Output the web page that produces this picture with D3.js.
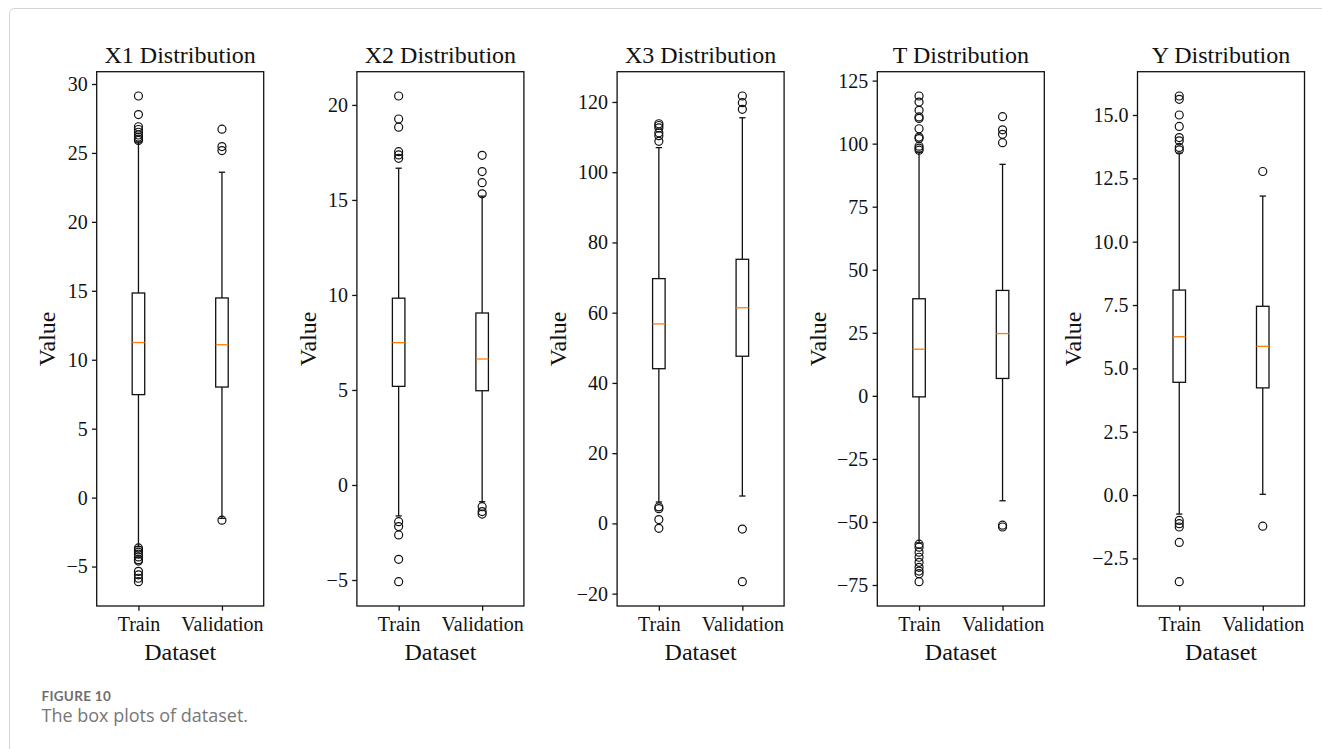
<!DOCTYPE html>
<html>
<head>
<meta charset="utf-8">
<script src="https://cdn.jsdelivr.net/npm/d3@7"></script>
<style>
  html, body { margin: 0; padding: 0; background: #fff; }
  svg { display: block; }
</style>
</head>
<body>
<svg id="chart" width="1322" height="749"></svg>
<script>
// Groups on every x axis
const groups = ["Train", "Validation"];

// Box summaries per group: [lower whisker, Q1, median, Q3, upper whisker]
const x1Boxes = [[-3.55, 7.47, 11.25, 14.84, 25.8], [-1.5, 8.02, 11.09, 14.48, 23.6]];
const x1Fliers = [
  [29.13, 27.78, 26.9, 26.7, 26.5, 26.3, 26.15, 26.0, 25.9, -3.65, -3.8, -3.95, -4.1, -4.3, -4.5, -4.6, -5.35, -5.6, -5.85, -6.1],
  [26.72, 25.46, 25.17, -1.64]
];
const x1Ticks = [-5, 0, 5, 10, 15, 20, 25, 30];

const x2Boxes = [[-1.63, 5.19, 7.49, 9.83, 16.67], [-0.88, 4.96, 6.63, 9.05, 15.2]];
const x2Fliers = [
  [20.47, 19.26, 18.83, 17.54, 17.37, 17.19, -1.93, -2.19, -2.63, -3.91, -5.09],
  [17.35, 16.49, 15.91, 15.32, -1.14, -1.4, -1.53]
];
const x2Ticks = [-5, 0, 5, 10, 15, 20];

const x3Boxes = [[6.1, 44.05, 56.8, 69.7, 107.0], [7.8, 47.6, 61.4, 75.2, 115.5]];
const x3Fliers = [
  [113.8, 113.3, 112.6, 111.2, 110.4, 108.8, 4.7, 4.2, 1.1, -1.4],
  [121.7, 119.8, 117.9, -1.6, -16.6]
];
const x3Ticks = [-20, 0, 20, 40, 60, 80, 100, 120];

const tBoxes = [[-58.3, -0.4, 18.5, 38.5, 96.6], [-41.6, 6.9, 24.7, 41.8, 91.8]];
const tFliers = [
  [118.9, 116.5, 113.2, 110.6, 110.0, 105.9, 102.6, 102.0, 99.0, 98.2, 97.4,
   -58.8, -60.0, -62.0, -64.0, -66.0, -68.0, -69.5, -70.5, -73.7],
  [110.7, 105.5, 103.7, 100.4, -51.3, -52.0]
];
const tTicks = [-75, -50, -25, 0, 25, 50, 75, 100, 125];

const yBoxes = [[-0.75, 4.45, 6.25, 8.09, 13.5], [0.03, 4.23, 5.87, 7.45, 11.8]];
const yFliers = [
  [15.75, 15.62, 15.0, 14.55, 14.11, 13.98, 13.72, 13.62, -1.0, -1.13, -1.26, -1.87, -3.42],
  [12.77, -1.23]
];
const yTicks = [-2.5, 0, 2.5, 5, 7.5, 10, 12.5, 15];

const variables = ["X1", "X2", "X3", "T", "Y"];

const panels = [
  { name: variables[0], boxes: x1Boxes, fliers: x1Fliers, ticks: x1Ticks, fmt: d3.format("d") },
  { name: variables[1], boxes: x2Boxes, fliers: x2Fliers, ticks: x2Ticks, fmt: d3.format("d") },
  { name: variables[2], boxes: x3Boxes, fliers: x3Fliers, ticks: x3Ticks, fmt: d3.format("d") },
  { name: variables[3], boxes: tBoxes, fliers: tFliers, ticks: tTicks, fmt: d3.format("d") },
  { name: variables[4], boxes: yBoxes, fliers: yFliers, ticks: yTicks, fmt: d3.format(".1f") }
];

const serif = "'Liberation Serif', 'Times New Roman', 'DejaVu Serif', serif";
const ink = "#111";
const lw = 1.3;

const svg = d3.select("#chart");

// Card outline of the figure block
svg.append("path")
  .attr("d", "M9.5,749 L9.5,14 Q9.5,8.5 15,8.5 L1322,8.5")
  .attr("fill", "none")
  .attr("stroke", "#d4d4d4")
  .attr("stroke-width", 1);

const frameTop = 71.7, frameBottom = 606, frameW = 167;
const firstLeft = 96.7, panelStep = 260.2;
const boxWidth = 0.15;

panels.forEach((p, i) => {
  const left = firstLeft + i * panelStep;
  const x = d3.scaleLinear().domain([0.5, 2.5]).range([left, left + frameW]);
  const all = p.boxes.flat().concat(p.fliers.flat());
  const [lo, hi] = d3.extent(all);
  const pad = (hi - lo) * 0.05;
  const y = d3.scaleLinear().domain([lo - pad, hi + pad]).range([frameBottom, frameTop]);

  const g = svg.append("g");

  // Y axis
  const yAxisG = g.append("g")
    .attr("transform", `translate(${left},0)`)
    .call(d3.axisLeft(y).tickValues(p.ticks).tickFormat(p.fmt).tickSize(4.7).tickPadding(4.3));
  // X axis
  const xAxisG = g.append("g")
    .attr("transform", `translate(0,${frameBottom})`)
    .call(d3.axisBottom(x).tickValues([1, 2]).tickFormat((d, k) => groups[k]).tickSize(4.7).tickPadding(5));

  [yAxisG, xAxisG].forEach(ax => {
    ax.select(".domain").remove();
    ax.selectAll(".tick line").attr("stroke", ink).attr("stroke-width", lw);
    ax.selectAll(".tick text")
      .attr("fill", ink)
      .style("font-family", serif)
      .style("font-size", "20px");
  });
  xAxisG.selectAll(".tick text").attr("dy", "0.78em");

  // Frame
  g.append("rect")
    .attr("x", left).attr("y", frameTop)
    .attr("width", frameW).attr("height", frameBottom - frameTop)
    .attr("fill", "none").attr("stroke", ink).attr("stroke-width", lw);

  // Boxes
  p.boxes.forEach((b, k) => {
    const pos = k + 1;
    const [wLo, q1, med, q3, wHi] = b;
    const bg = g.append("g");
    const x0 = x(pos - boxWidth / 2), x1 = x(pos + boxWidth / 2);
    const cx = x(pos);
    const c0 = x(pos - boxWidth / 4), c1 = x(pos + boxWidth / 4);
    // whiskers
    bg.append("line").attr("x1", cx).attr("x2", cx).attr("y1", y(q3)).attr("y2", y(wHi));
    bg.append("line").attr("x1", cx).attr("x2", cx).attr("y1", y(q1)).attr("y2", y(wLo));
    // caps
    bg.append("line").attr("x1", c0).attr("x2", c1).attr("y1", y(wHi)).attr("y2", y(wHi));
    bg.append("line").attr("x1", c0).attr("x2", c1).attr("y1", y(wLo)).attr("y2", y(wLo));
    bg.selectAll("line").attr("stroke", ink).attr("stroke-width", lw);
    // box
    bg.append("rect")
      .attr("x", x0).attr("y", y(q3))
      .attr("width", x1 - x0).attr("height", y(q1) - y(q3))
      .attr("fill", "none").attr("stroke", ink).attr("stroke-width", lw);
    // median
    bg.append("line")
      .attr("x1", x0).attr("x2", x1).attr("y1", y(med)).attr("y2", y(med))
      .attr("stroke", "#ff7f0e").attr("stroke-width", lw);
    // outliers
    bg.selectAll("circle.flier").data(p.fliers[k]).join("circle")
      .attr("class", "flier")
      .attr("cx", cx).attr("cy", d => y(d)).attr("r", 4)
      .attr("fill", "none").attr("stroke", ink).attr("stroke-width", 1.2);
  });

  // Title
  g.append("text")
    .attr("x", left + frameW / 2).attr("y", frameTop - 8.5)
    .attr("text-anchor", "middle")
    .attr("fill", ink)
    .style("font-family", serif).style("font-size", "24px")
    .text(`${p.name} Distribution`);

  // X label
  g.append("text")
    .attr("x", left + frameW / 2).attr("y", 660)
    .attr("text-anchor", "middle")
    .attr("fill", ink)
    .style("font-family", serif).style("font-size", "24px")
    .text("Dataset");

  // Y label, placed just left of the widest tick label
  let minX = left;
  yAxisG.selectAll(".tick text").each(function () {
    const bb = this.getBBox();
    const m = this.parentNode.transform.baseVal.consolidate();
    const tx = m ? m.matrix.e : 0;
    minX = Math.min(minX, left + tx + bb.x);
  });
  const lx = minX - 11;
  const ly = (frameTop + frameBottom) / 2;
  g.append("text")
    .attr("transform", `translate(${lx},${ly}) rotate(-90)`)
    .attr("text-anchor", "middle")
    .attr("fill", ink)
    .style("font-family", serif).style("font-size", "24px")
    .text("Value");
});

// Caption
svg.append("text")
  .attr("x", 41.5).attr("y", 701)
  .attr("fill", "#6e6e6e")
  .style("font-family", "Lato, 'Open Sans', sans-serif")
  .style("font-size", "13.5px").style("font-weight", "700")
  .style("letter-spacing", "0.3px")
  .text("FIGURE 10");
svg.append("text")
  .attr("x", 41.5).attr("y", 722)
  .attr("fill", "#777")
  .style("font-family", "'Open Sans', Lato, sans-serif")
  .style("font-size", "18px")
  .text("The box plots of dataset.");
</script>
</body>
</html>
